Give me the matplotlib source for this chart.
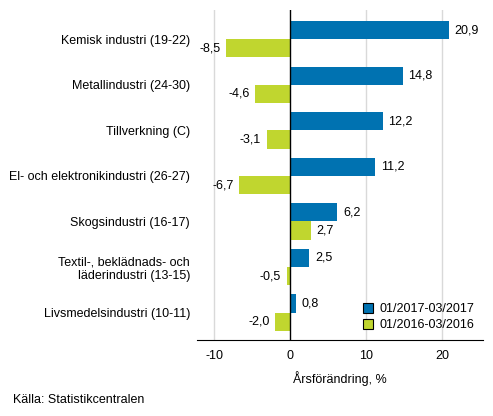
import matplotlib.pyplot as plt
import numpy as np

plt.rcParams['font.family'] = ['Liberation Sans', 'DejaVu Sans']

categories = [
    "Kemisk industri (19-22)",
    "Metallindustri (24-30)",
    "Tillverkning (C)",
    "El- och elektronikindustri (26-27)",
    "Skogsindustri (16-17)",
    "Textil-, beklädnads- och\nläderindustri (13-15)",
    "Livsmedelsindustri (10-11)",
]
series_names = ["01/2017-03/2017", "01/2016-03/2016"]
values_2017 = [20.9, 14.8, 12.2, 11.2, 6.2, 2.5, 0.8]
values_2016 = [-8.5, -4.6, -3.1, -6.7, 2.7, -0.5, -2.0]
xticks = [-10, 0, 10, 20]

blue = "#0072b1"
green = "#c0d62f"
fs = 9

fig = plt.figure(figsize=(4.93, 4.16), dpi=100)
ax = fig.add_axes([197 / 493, 1 - 340 / 416, 286 / 493, 330 / 416])

y = np.arange(len(categories))
h = 0.4
bars1 = ax.barh(y - h / 2, values_2017, height=h, color=blue, label=series_names[0], zorder=2)
bars2 = ax.barh(y + h / 2, values_2016, height=h, color=green, label=series_names[1], zorder=2)


def fmt(v):
    return ("%.1f" % v).replace(".", ",")


for bars, vals in ((bars1, values_2017), (bars2, values_2016)):
    for b, v in zip(bars, vals):
        yc = b.get_y() + b.get_height() / 2
        if v >= 0:
            ax.annotate(fmt(v), (v, yc), xytext=(4, 0), textcoords="offset points",
                        ha="left", va="center", fontsize=fs)
        else:
            ax.annotate(fmt(v), (v, yc), xytext=(-4, 0), textcoords="offset points",
                        ha="right", va="center", fontsize=fs)

ax.set_xlim(-12.3, 25.4)
ax.set_ylim(len(categories) - 0.4, -0.64)
ax.set_yticks(y)
ax.set_yticklabels(categories, fontsize=fs)
ax.tick_params(axis="y", length=0, pad=5)
ax.set_xticks(xticks)
ax.set_xticklabels([str(t) for t in xticks], fontsize=fs)
ax.tick_params(axis="x", length=0, pad=7)

for t in xticks:
    if t != 0:
        ax.axvline(t, color="#d9d9d9", lw=1, zorder=0)
ax.axvline(0, color="black", lw=1, zorder=3)

for s in ["top", "right", "left"]:
    ax.spines[s].set_visible(False)
ax.spines["bottom"].set_color("black")

ax.set_xlabel("Årsförändring, %", fontsize=fs, labelpad=7)

leg = ax.legend(loc="lower right", frameon=False, fontsize=fs, handlelength=0.8,
                handleheight=0.8, handletextpad=0.5, borderaxespad=0.3, labelspacing=0.3)
for p in leg.get_patches():
    p.set_edgecolor("black")
    p.set_linewidth(0.8)

fig.text(13 / 493, 1 - 400 / 416, "Källa: Statistikcentralen", fontsize=fs, va="center", ha="left")

fig.savefig("out.png", dpi=100)
